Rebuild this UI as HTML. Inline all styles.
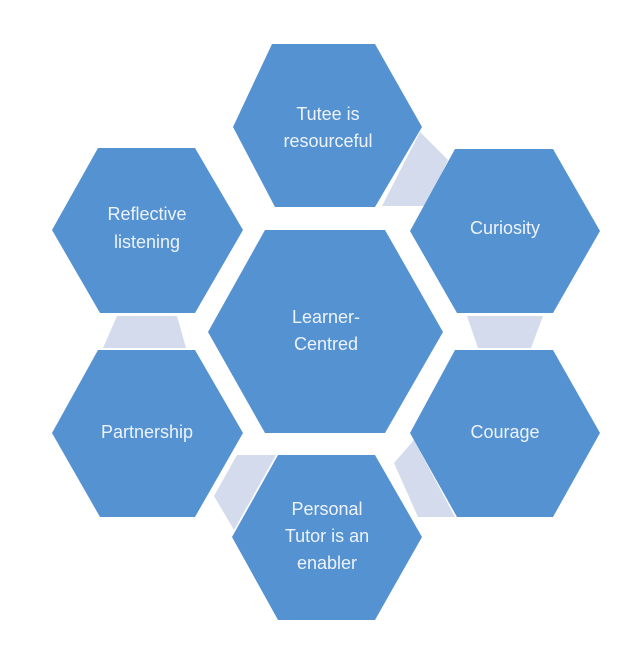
<!DOCTYPE html>
<html><head><meta charset="utf-8"><style>
html,body{margin:0;padding:0;background:#fff;}
svg text{font-family:"Liberation Sans",sans-serif;font-size:18px;fill:#eef3fb;text-anchor:middle;}
</style></head><body>
<svg width="630" height="662" viewBox="0 0 630 662" xmlns="http://www.w3.org/2000/svg">
<g fill="#d3dbec">
<polygon points="420,132 448,160 426,206 382,206"/>
<polygon points="467,316 543,316 531,348 478,348"/>
<polygon points="117,316 177,316 186,348 103,348"/>
<polygon points="237,455 276,455 234,530 214,496"/>
<polygon points="394,463 414,440 455,517 418,517"/>
</g>
<g fill="#5592d2">
<polygon points="272,44 375,44 422,127 375,207 275,207 233,127"/>
<polygon points="455,149 553,149 600,231 553,313 457,313 410,231"/>
<polygon points="265,230 385,230 443,332 385,433 265,433 208,332"/>
<polygon points="98,148 195,148 243,230 195,313 100,313 52,230"/>
<polygon points="98,350 195,350 243,433 195,517 100,517 52,433"/>
<polygon points="455,350 553,350 600,433 553,517 457,517 410,433"/>
<polygon points="278,455 375,455 422,537 375,620 278,620 232,537"/>
</g>
<text x="328" y="120">Tutee is</text>
<text x="328" y="147">resourceful</text>
<text x="505" y="234">Curiosity</text>
<text x="147" y="220">Reflective</text>
<text x="147" y="248">listening</text>
<text x="326" y="323">Learner-</text>
<text x="326" y="350">Centred</text>
<text x="147" y="438">Partnership</text>
<text x="505" y="438">Courage</text>
<text x="327" y="515">Personal</text>
<text x="327" y="542">Tutor is an</text>
<text x="327" y="569">enabler</text>
</svg>
</body></html>
